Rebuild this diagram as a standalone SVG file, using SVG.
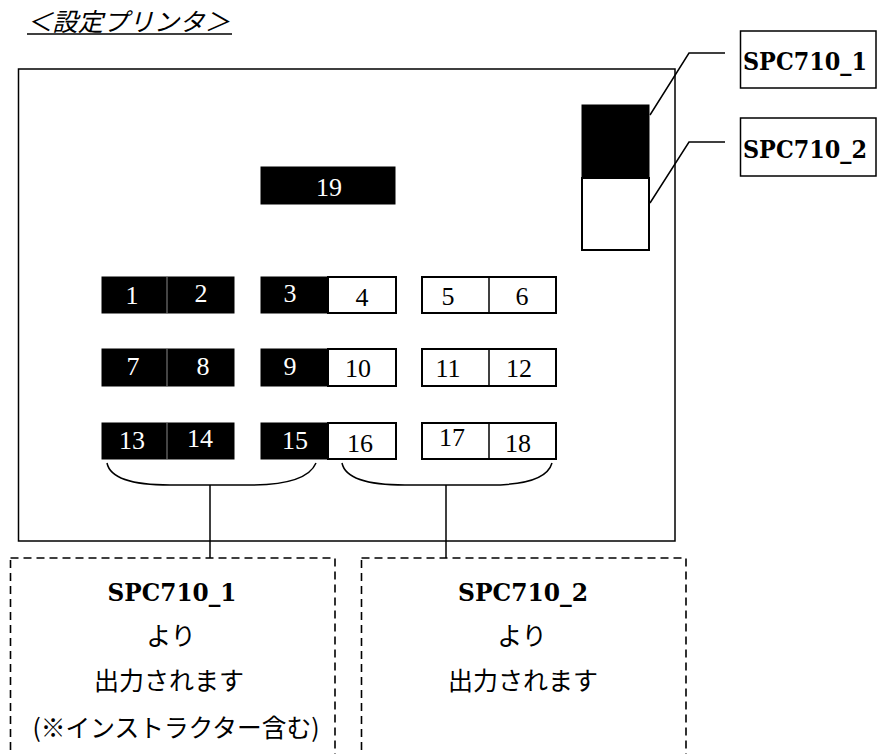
<svg xmlns="http://www.w3.org/2000/svg" width="877" height="754" viewBox="0 0 877 754">
<style>
.ln{fill:none;stroke:#000;stroke-width:1.5}
.blk{fill:#000;stroke:#000;stroke-width:1}
.wht{fill:#fff;stroke:#000;stroke-width:2}
.sep{stroke:#888;stroke-width:1}
.dash{fill:none;stroke:#000;stroke-width:1.6;stroke-dasharray:8 5}
.num{font-family:"Liberation Serif","DejaVu Serif",serif;font-size:26px;text-anchor:middle}
.nw{fill:#fff}
.nb{fill:#000}
.lab{font-family:"DejaVu Serif","Liberation Serif",serif;font-size:25px;font-weight:bold;fill:#000}
.jp{font-family:"Noto Sans CJK JP","Noto Sans CJK SC",sans-serif;font-size:25px;fill:#000;text-anchor:middle}
</style>
<rect width="877" height="754" fill="#fff"/>

<g id="title">
<text x="27" y="31" font-family="Noto Sans CJK JP, sans-serif" font-size="25" font-style="italic" textLength="203" lengthAdjust="spacingAndGlyphs">＜設定プリンタ＞</text>
<line x1="27" y1="34" x2="232" y2="34" stroke="#000" stroke-width="1.5"/>
</g>

<g id="printer">
<rect x="18.5" y="69" width="656.5" height="472" class="ln"/>
</g>

<g id="switch">
<rect x="582" y="105" width="67" height="73" class="blk"/>
<rect x="582" y="178" width="67" height="72" fill="#fff" stroke="#000" stroke-width="2"/>
</g>

<g id="tray19">
<rect x="261" y="167" width="134" height="37" class="blk"/>
<text x="329" y="196" class="num nw">19</text>
</g>

<g id="tray1-2">
<rect x="102" y="277" width="132" height="36" class="blk"/>
<line x1="167" y1="277" x2="167" y2="313" class="sep"/>
<text x="132" y="304" class="num nw">1</text>
<text x="201" y="302" class="num nw">2</text>
</g>
<g id="tray3-4">
<rect x="261" y="277" width="67" height="36" class="blk"/>
<rect x="328" y="277" width="68" height="36" class="wht"/>
<text x="290" y="302" class="num nw">3</text>
<text x="362" y="306" class="num nb">4</text>
</g>
<g id="tray5-6">
<rect x="422" y="277" width="134" height="36" class="wht"/>
<line x1="489" y1="277" x2="489" y2="313" stroke="#000" stroke-width="1.5"/>
<text x="448" y="305" class="num nb">5</text>
<text x="522" y="305" class="num nb">6</text>
</g>

<g id="tray7-8">
<rect x="102" y="349" width="132" height="37" class="blk"/>
<line x1="167" y1="349" x2="167" y2="386" class="sep"/>
<text x="133" y="375" class="num nw">7</text>
<text x="203" y="375" class="num nw">8</text>
</g>
<g id="tray9-10">
<rect x="261" y="349" width="67" height="37" class="blk"/>
<rect x="328" y="349" width="68" height="37" class="wht"/>
<text x="290" y="375" class="num nw">9</text>
<text x="358" y="377" class="num nb">10</text>
</g>
<g id="tray11-12">
<rect x="422" y="349" width="134" height="37" class="wht"/>
<line x1="489" y1="349" x2="489" y2="386" stroke="#000" stroke-width="1.5"/>
<text x="448" y="377" class="num nb">11</text>
<text x="519" y="377" class="num nb">12</text>
</g>

<g id="tray13-14">
<rect x="102" y="423" width="132" height="36" class="blk"/>
<line x1="167" y1="423" x2="167" y2="459" class="sep"/>
<text x="132" y="449" class="num nw">13</text>
<text x="200" y="447" class="num nw">14</text>
</g>
<g id="tray15-16">
<rect x="261" y="423" width="67" height="36" class="blk"/>
<rect x="328" y="423" width="68" height="36" class="wht"/>
<text x="295" y="449" class="num nw">15</text>
<text x="360" y="452" class="num nb">16</text>
</g>
<g id="tray17-18">
<rect x="422" y="423" width="134" height="36" class="wht"/>
<line x1="489" y1="423" x2="489" y2="459" stroke="#000" stroke-width="1.5"/>
<text x="452" y="446" class="num nb">17</text>
<text x="518" y="452" class="num nb">18</text>
</g>

<g id="label-spc1">
<rect x="740.5" y="31" width="135.5" height="57" class="ln"/>
<text x="743" y="70" class="lab" font-size="22" textLength="124" lengthAdjust="spacingAndGlyphs">SPC710_1</text>
</g>
<g id="label-spc2">
<rect x="740.5" y="118" width="135.5" height="58" class="ln"/>
<text x="743" y="158" class="lab" font-size="22" textLength="124" lengthAdjust="spacingAndGlyphs">SPC710_2</text>
</g>

<g id="out-spc1">
<rect x="10.5" y="558" width="324.5" height="220" class="dash"/>
<text x="172" y="601" class="lab" text-anchor="middle" textLength="129" lengthAdjust="spacingAndGlyphs">SPC710_1</text>
<text x="171" y="645" class="jp">より</text>
<text x="169" y="690" class="jp" font-size="26">出力されます</text>
<text x="176" y="737" class="jp" font-size="22" textLength="287" lengthAdjust="spacingAndGlyphs">(※インストラクター含む)</text>
</g>
<g id="out-spc2">
<rect x="361.5" y="558" width="324.5" height="220" class="dash"/>
<text x="523" y="601" class="lab" text-anchor="middle" textLength="130" lengthAdjust="spacingAndGlyphs">SPC710_2</text>
<text x="522" y="645" class="jp">より</text>
<text x="523" y="690" class="jp" font-size="26">出力されます</text>
</g>

<g id="connectors">
<polyline points="650,115 689,53 725,53" class="ln"/>
<polyline points="650,203 689,142 725,142" class="ln"/>
<path d="M107,463 C110,478 130,485 170,485 L250,485 C290,485 310,477 316,463" class="ln"/>
<path d="M342,463 C345,478 365,485 405,485 L490,485 C530,485 548,477 552,463" class="ln"/>
<line x1="210" y1="485" x2="210" y2="558" class="ln"/>
<line x1="446" y1="485" x2="446" y2="558" class="ln"/>
</g>
</svg>
